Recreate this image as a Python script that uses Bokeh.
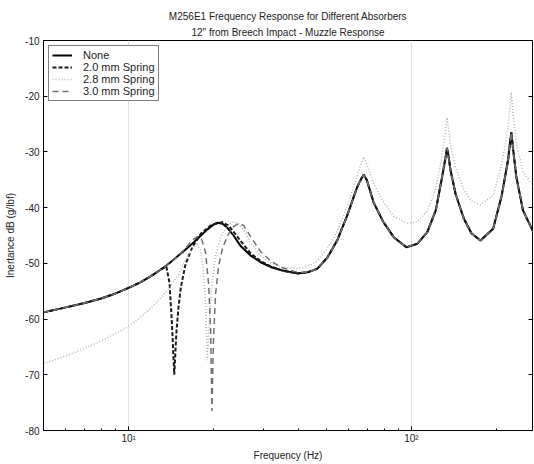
from bokeh.plotting import figure
from bokeh.models import Title, Legend, LegendItem, FixedTicker, LinearAxis, Range1d
from bokeh.embed import file_html
from bokeh.resources import INLINE

# Frequency response of the muzzle, 12" from breech impact, for each absorber.
# Frequencies in Hz, inertance in dB (g/lbf).

none_f = [5, 6, 7, 8, 9, 10, 11, 12, 13, 14, 15, 16, 17, 18, 19, 20, 20.6, 21.5, 22.5, 23.5,
          24.9, 27, 29.3, 32, 35, 39.5, 43, 46.4, 50.4, 54.6, 59.3, 64.3, 66.5, 67.8, 69.6,
          73.4, 79.6, 86.6, 96, 104.8, 113.8, 121.9, 128.4, 131.5, 133.6, 135.5, 137.5, 143.2,
          153.3, 163, 175.4, 194.5, 208, 216, 219.6, 223, 225.6, 228, 235, 248, 270]
none_db = [-58.8, -57.9, -57.1, -56.3, -55.4, -54.4, -53.4, -52.3, -51.1, -49.9, -48.6, -47.4,
           -46.2, -45.0, -43.9, -43.0, -42.7, -42.9, -43.8, -45.0, -46.9, -48.6, -49.8, -50.7,
           -51.3, -51.8, -51.6, -51.0, -49.0, -45.9, -41.4, -36.3, -34.8, -34.1, -35.1, -39.0,
           -42.6, -45.3, -47.1, -46.5, -44.4, -40.5, -34.5, -31.5, -29.3, -31.0, -33.3, -37.5,
           -42.0, -44.6, -45.9, -43.8, -38.1, -33.5, -31.5, -28.5, -26.5, -28.8, -34.5, -40.5,
           -44.4]

spring20_f = [5, 6, 7, 8, 9, 10, 11, 12, 13, 13.6, 13.95, 14.2, 14.5, 14.75, 15.0, 15.3, 15.9,
              16.8, 18.0, 19.5, 21.4, 22.5, 23.5, 24.9, 27, 29.3, 32, 35, 39.5, 43, 46.4, 50.4,
              54.6, 59.3, 64.3, 66.5, 67.8, 69.6, 73.4, 79.6, 86.6, 96, 104.8, 113.8, 121.9,
              128.4, 131.5, 133.6, 135.5, 137.5, 143.2, 153.3, 163, 175.4, 194.5, 208, 216,
              219.6, 223, 225.6, 228, 235, 248, 270]
spring20_db = [-58.8, -57.9, -57.1, -56.3, -55.4, -54.4, -53.4, -52.3, -51.1, -50.6, -53.5,
               -60.0, -70.0, -62.5, -58.0, -54.3, -50.1, -47.1, -44.7, -43.2, -42.6, -43.2,
               -44.3, -46.0, -48.2, -49.6, -50.6, -51.3, -51.8, -51.6, -51.0, -49.0, -45.9,
               -41.4, -36.3, -34.8, -34.1, -35.1, -39.0, -42.6, -45.3, -47.1, -46.5, -44.4,
               -40.5, -34.5, -31.5, -29.3, -31.0, -33.3, -37.5, -42.0, -44.6, -45.9, -43.8,
               -38.1, -33.5, -31.5, -28.5, -26.5, -28.8, -34.5, -40.5, -44.4]

spring28_f = [5, 6, 7, 8, 9, 10, 11, 12, 13, 14, 15, 15.9, 16.8, 17.4, 17.9, 18.3, 18.7, 19.0,
              19.3, 19.7, 20.3, 21.2, 22.2, 23.5, 24.5, 25.5, 27, 29.3, 32, 35, 39.5, 43, 46.4,
              50.4, 54.6, 59.3, 64.3, 66.5, 67.8, 69.6, 73.4, 79.6, 86.6, 96, 104.8, 113.8,
              121.9, 128.4, 131.5, 133.6, 135.5, 137.5, 143.2, 153.3, 163, 175.4, 194.5, 208,
              216, 219.6, 223, 225.6, 228, 235, 248, 270]
spring28_db = [-68.0, -66.6, -65.3, -63.9, -62.6, -61.3, -59.7, -58.0, -56.2, -54.3, -52.0,
               -49.4, -47.3, -46.6, -47.5, -50.5, -57.0, -67.4, -60.0, -53.5, -48.5, -45.2,
               -43.4, -42.6, -42.9, -44.0, -46.3, -48.6, -50.0, -50.7, -50.9, -50.5, -49.6,
               -47.4, -44.3, -39.8, -34.3, -32.0, -30.9, -32.2, -35.6, -39.0, -41.5, -42.8,
               -42.6, -40.6, -36.6, -30.5, -27.0, -23.8, -26.0, -28.6, -32.8, -36.8, -38.8,
               -39.5, -37.8, -32.5, -28.0, -25.5, -22.0, -19.3, -22.5, -28.5, -33.5, -36.2]

spring30_f = [5, 6, 7, 8, 9, 10, 11, 12, 13, 14, 15, 15.9, 16.8, 17.5, 18.1, 18.7, 19.2, 19.5,
              19.7, 19.95, 20.3, 20.8, 21.5, 22.5, 23.5, 24.5, 25.5, 27, 29.3, 32, 35, 39.5,
              43, 46.4, 50.4, 54.6, 59.3, 64.3, 66.5, 67.8, 69.6, 73.4, 79.6, 86.6, 96, 104.8,
              113.8, 121.9, 128.4, 131.5, 133.6, 135.5, 137.5, 143.2, 153.3, 163, 175.4, 194.5,
              208, 216, 219.6, 223, 225.6, 228, 235, 248, 270]
spring30_db = [-58.8, -57.9, -57.1, -56.3, -55.4, -54.4, -53.4, -52.3, -51.1, -49.9, -48.6,
               -47.3, -45.8, -45.2, -45.6, -48.0, -54.0, -62.0, -76.5, -64.0, -55.5, -50.5,
               -47.2, -44.8, -43.4, -42.8, -43.2, -45.2, -47.9, -49.7, -50.8, -51.6, -51.6,
               -51.0, -49.0, -45.9, -41.4, -36.3, -34.8, -34.1, -35.1, -39.0, -42.6, -45.3,
               -47.1, -46.5, -44.4, -40.5, -34.5, -31.5, -29.3, -31.0, -33.3, -37.5, -42.0,
               -44.6, -45.9, -43.8, -38.1, -33.5, -31.5, -28.5, -26.5, -28.8, -34.5, -40.5,
               -44.4]

x_major = [10, 100]
x_minor = [5, 6, 7, 8, 9, 20, 30, 40, 50, 60, 70, 80, 90, 200]
y_ticks = [-80, -70, -60, -50, -40, -30, -20, -10]

FONT = "Liberation Sans"
TXT = "#222222"

p = figure(width=534, height=464, x_axis_type="log",
           x_range=Range1d(5, 268), y_range=Range1d(-80, -10),
           output_backend="svg", toolbar_location=None,
           title="M256E1 Frequency Response for Different Absorbers",
           min_border_left=43, min_border_right=2, min_border_top=40, min_border_bottom=34,
           background_fill_color="white", border_fill_color="white")

p.title.text_font = FONT
p.title.text_font_size = "10px"
p.title.text_font_style = "normal"
p.title.text_color = TXT
p.title.align = "center"
p.title.standoff = 0
p.add_layout(Title(text="12\" from Breech Impact - Muzzle Response", text_font=FONT,
                   text_font_size="10px", text_font_style="normal", text_color=TXT,
                   align="center", standoff=6), "above")

p.outline_line_color = "black"
p.outline_line_width = 1
p.ygrid.visible = False
p.xgrid.ticker = FixedTicker(ticks=x_major)
p.xgrid.grid_line_color = "#e2e2e2"

xa = p.xaxis[0]
xa.ticker = FixedTicker(ticks=x_major, minor_ticks=x_minor)
xa.major_label_overrides = {10: "10\u00b9", 100: "10\u00b2"}
xa.axis_label = "Frequency (Hz)"
ya = p.yaxis[0]
ya.ticker = FixedTicker(ticks=y_ticks)
ya.major_label_overrides = {t: str(t) for t in y_ticks}
ya.axis_label = "Inertance dB (g/lbf)"
for ax in (xa, ya):
    ax.major_tick_in = 4
    ax.major_tick_out = 0
    ax.minor_tick_in = 2
    ax.minor_tick_out = 0
    ax.axis_line_color = "black"
    ax.major_label_text_font = FONT
    ax.major_label_text_font_size = "10px"
    ax.major_label_text_color = TXT
    ax.axis_label_text_font = FONT
    ax.axis_label_text_font_size = "10px"
    ax.axis_label_text_font_style = "normal"
    ax.axis_label_text_color = TXT
xa.major_label_standoff = 2
xa.axis_label_standoff = 3
ya.major_label_standoff = 4
ya.axis_label_standoff = 6

# tick marks along the right edge of the box (labels kept invisible)
right = LinearAxis(ticker=FixedTicker(ticks=y_ticks), major_tick_in=4, major_tick_out=0,
                   minor_tick_in=0, minor_tick_out=0, major_label_text_font_size="1px",
                   major_label_text_alpha=0, major_label_standoff=0, axis_line_color=None)
p.add_layout(right, "right")

r_none = p.line(none_f, none_db, line_color="black", line_width=2)
r_20 = p.line(spring20_f, spring20_db, line_color="#1a1a1a", line_width=2, line_dash="4 2")
r_28 = p.line(spring28_f, spring28_db, line_color="#b4b4b4", line_width=1.5, line_dash="1 2")
r_30 = p.line(spring30_f, spring30_db, line_color="#707070", line_width=1.5, line_dash="6 4")

legend = Legend(items=[LegendItem(label="None", renderers=[r_none]),
                       LegendItem(label="2.0 mm Spring", renderers=[r_20]),
                       LegendItem(label="2.8 mm Spring", renderers=[r_28]),
                       LegendItem(label="3.0 mm Spring", renderers=[r_30])],
                location="top_left", margin=5, padding=3, spacing=0,
                label_text_font=FONT, label_text_font_size="11px", label_text_color=TXT,
                label_height=12, glyph_height=12, glyph_width=20, label_standoff=11,
                border_line_color="black", border_line_width=1, background_fill_alpha=1)
p.add_layout(legend)

open("out.html", "w").write(file_html(p, INLINE))
